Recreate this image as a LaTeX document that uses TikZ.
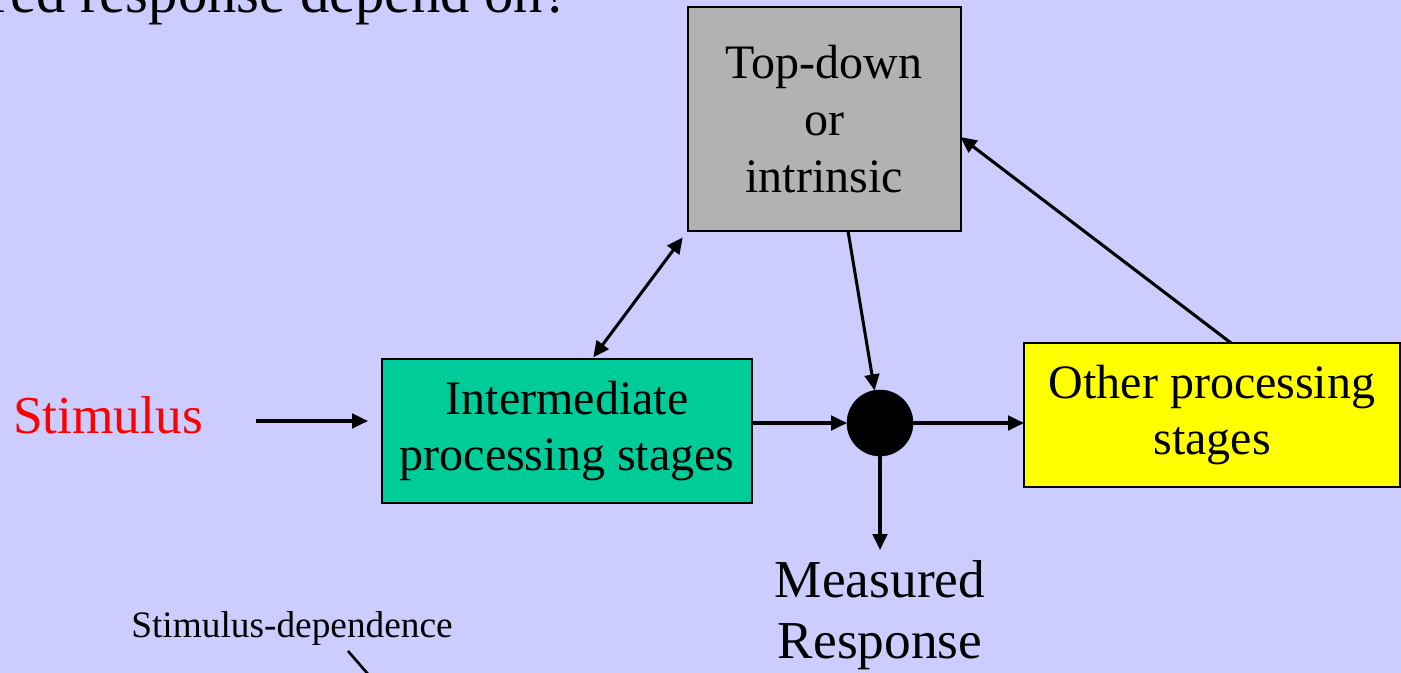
\documentclass[tikz,border=0pt]{standalone}
\usepackage{fontspec}
\setmainfont{Liberation Serif}
\usetikzlibrary{arrows.meta}
\definecolor{slidebg}{HTML}{CCCCFF}
\definecolor{boxgray}{HTML}{B2B2B2}
\definecolor{boxgreen}{HTML}{00CC99}
\definecolor{boxyellow}{HTML}{FFFF00}
\definecolor{stimred}{HTML}{FF0000}
\begin{document}
\begin{tikzpicture}[x=0.75pt,y=-0.75pt,
  every node/.style={inner sep=0pt,outer sep=0pt},
  stagebox/.style={draw=black,line width=1.5pt,rectangle,align=center,
    font=\fontsize{36}{42.5}\selectfont},
  tip/.tip={Triangle[length=12pt,width=11pt]},
  conn/.style={line width=2.3pt,-tip},
  biconn/.style={line width=2.3pt,tip-tip},
  biglabel/.style={font=\fontsize{40}{45.75}\selectfont,align=center}]

  % page and background
  \useasboundingbox (0,0) rectangle (1401,673);
  \clip (0,0) rectangle (1401,673);
  \fill[slidebg] (0,0) rectangle (1401,673);

  % heading line, running off the top edge
  \node[anchor=base east,font=\fontsize{44}{52}\selectfont] (heading) at (569,13)
    {measured response depend on?};

  % boxes
  \node[stagebox,fill=boxgray,minimum width=204.75pt,minimum height=168pt]
    (top) at (824,119) {Top-down\\or\\intrinsic};
  \node[stagebox,fill=boxgreen,minimum width=277.5pt,minimum height=108pt]
    (inter) at (567,431) {Intermediate\\processing stages};
  \node[stagebox,fill=boxyellow,minimum width=282pt,minimum height=108pt]
    (other) at (1212,415) {Other processing\\stages};

  % junction
  \node[circle,fill=black,draw=black,minimum size=49.5pt] (dot) at (880,423) {};

  % labels
  \node[anchor=base,text=stimred,font=\fontsize{40}{46}\selectfont] (stim) at (108,433) {Stimulus};
  \node[biglabel,anchor=north] (resp) at (880,560) {Measured\\Response};
  \node[anchor=base,font=\fontsize{28}{33}\selectfont] (sdlabel) at (292,637) {Stimulus-dependence};

  % free ends
  \coordinate (stimtail) at (256,421);
  \coordinate (resptip) at (880,550);
  \coordinate (sdtail) at (348,651);
  \coordinate (sdend) at (374,681);

  % connectors
  \draw[conn,shorten >=10.5pt] (stimtail) -- (inter.west |- stimtail);
  \draw[conn] (inter.east |- dot) -- (dot);
  \draw[conn] (dot) -- (other.west |- dot);
  \draw[conn] (dot) -- (resptip);
  \draw[conn] (top.south -| 848,0) -- (dot);
  \draw[biconn,shorten <=1.5pt,shorten >=6pt] (inter.north -| 592,0) -- (top.south west);
  \draw[conn] (other.north -| 1231,0) -- (top.east |- 0,137);
  \draw[line width=2pt] (sdtail) -- (sdend);
\end{tikzpicture}
\end{document}
